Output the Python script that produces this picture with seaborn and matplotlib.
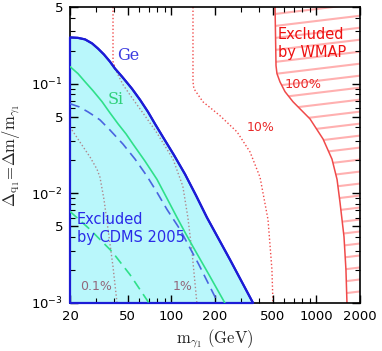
import numpy as np
import matplotlib
matplotlib.use("Agg")
import matplotlib.pyplot as plt
import seaborn as sns
from matplotlib.ticker import FixedLocator, FixedFormatter, NullFormatter

# ---------------- data ----------------
# CDMS 2005 exclusion, Ge (upper boundary of excluded region)
ge_m = [20, 22.7, 25.4, 28.4, 31.2, 34.3, 37.7, 40.9, 45.7, 53.5, 60.8, 69.0, 77.1,
        87.5, 104.3, 124.4, 147.8, 176, 254, 366]
ge_d = [0.264, 0.2615, 0.2533, 0.2328, 0.209, 0.1845, 0.159, 0.137, 0.1159, 0.090,
        0.0713, 0.0553, 0.0430, 0.0326, 0.0223, 0.0149, 0.00959, 0.00602, 0.00248, 0.001]
# Si solid
si_m = [20, 22.7, 25.4, 28.8, 33.3, 37.7, 42.9, 48.7, 54.4, 65.8, 79.6, 93.3, 109.4,
        124.4, 141, 181.8, 234]
si_d = [0.143, 0.1235, 0.104, 0.0863, 0.0684, 0.0542, 0.0430, 0.0348, 0.0281, 0.01966,
        0.0134, 0.00900, 0.00602, 0.00439, 0.00326, 0.00181, 0.001]
# Ge dashed
ged_m = [20, 23.1, 26.6, 29.3, 32.2, 37.7, 46.4, 56.2, 68.0, 79.6, 93.3, 114.8, 155, 210]
ged_d = [0.0656, 0.0615, 0.0553, 0.0509, 0.0467, 0.0378, 0.0281, 0.0205, 0.0143, 0.01021,
         0.00713, 0.00468, 0.00223, 0.001]
# Si dashed
sid_m = [20, 27.5, 39, 51.9, 70.1]
sid_d = [0.00684, 0.00468, 0.00294, 0.00181, 0.001]
# relic-density contours (dotted)
c01_m = [20, 23.4, 27.5, 30.7, 32.2, 34.3, 36.6, 39.6, 42.2]
c01_d = [0.0403, 0.0294, 0.0214, 0.0166, 0.0140, 0.00881, 0.00468, 0.00214, 0.001]
c1_m = [39.6, 39.6, 39.6, 41.5, 46.4, 53.5, 65.8, 79.6, 102.7, 120, 130, 139, 150]
c1_d = [0.5, 0.209, 0.159, 0.1316, 0.0979, 0.0744, 0.0509, 0.0355, 0.0205, 0.0116,
        0.00602, 0.00288, 0.001]
c10_m = [141, 141, 143, 165, 217, 284, 349, 409, 464, 494, 502]
c10_d = [0.5, 0.104, 0.090, 0.0684, 0.0509, 0.0363, 0.0238, 0.0140, 0.00577, 0.00201, 0.001]
# WMAP 100% boundary
w_m = [519, 527, 535, 561, 608, 690, 904, 1112, 1282, 1389, 1456, 1551, 1600, 1626]
w_d = [0.5, 0.146, 0.1235, 0.104, 0.0845, 0.0684, 0.0477, 0.0313, 0.0205, 0.0134,
       0.00827, 0.00403, 0.00201, 0.001]

x_ticks = [20, 50, 100, 200, 500, 1000, 2000]
x_ticklabels = ["20", "50", "100", "200", "500", "1000", "2000"]
y_ticks = [1e-3, 5e-3, 1e-2, 5e-2, 1e-1, 5e-1]
y_ticklabels = [r"$10^{-3}$", "5", r"$10^{-2}$", "5", r"$10^{-1}$", "5"]

# ---------------- style ----------------
sns.set_style("ticks")
plt.rcParams['font.family'] = ['DejaVu Sans']

BLUE = "#1c1cd6"
BLUE_D = "#4a64e0"
GREEN = "#2fe08a"
RED = "#f04a4a"
RED_T = "#e82a2a"
RED_IN = "#c01830"
PINK = "#ffb0b0"
CYAN = (71 / 255, 235 / 255, 247 / 255)

fig, ax = plt.subplots(figsize=(3.82, 3.51), dpi=100)
fig.subplots_adjust(left=70 / 382, right=360 / 382, bottom=1 - 303 / 351, top=1 - 7 / 351)
ax.set_xscale("log")
ax.set_yscale("log")
ax.set_xlim(20, 2000)
ax.set_ylim(1e-3, 0.5)
ax.set_axisbelow(False)

dot = (0, (1, 1.6))
# dotted contours (under the translucent cyan region)
for mm, dd in [(c01_m, c01_d), (c1_m, c1_d), (c10_m, c10_d)]:
    sns.lineplot(x=mm, y=dd, sort=False, estimator=None, ax=ax, color=RED,
                 lw=1.0, linestyle=dot, zorder=1)

ax.text(23.4, 0.0014, "0.1%", color=RED_IN, fontsize=9, ha="left", va="center", zorder=1)
ax.text(102.7, 0.0014, "1%", color=RED_IN, fontsize=9, ha="left", va="center", zorder=1)
ax.text(332, 0.0395, "10%", color=RED_T, fontsize=9, ha="left", va="center", zorder=1)
ax.text(608, 0.0979, "100%", color=RED_T, fontsize=9.3, ha="left", va="center", zorder=3)
ax.text(544, 0.233, "Excluded\nby WMAP", color="#ee1111", fontsize=10.5, ha="left",
        va="center", linespacing=1.3, zorder=3)

# WMAP excluded region: boundary + tilted hatch lines
sns.lineplot(x=w_m, y=w_d, sort=False, estimator=None, ax=ax, color=RED, lw=1.1, zorder=2)
wpoly = ax.fill_betweenx(w_d, w_m, 2000, facecolor="none", edgecolor="none", lw=0)
wpath = wpoly.get_paths()[0]
for y0 in np.arange(-0.16, 1.0, 0.0405):
    hl, = ax.plot([0, 1], [y0, y0 + 0.118], transform=ax.transAxes, color=PINK,
                  lw=1.5, zorder=1.5, solid_capstyle="butt")
    hl.set_clip_path(wpath, ax.transData)

# CDMS excluded region (translucent cyan)
ax.fill_between(ge_m, ge_d, 1e-3, facecolor=CYAN, alpha=0.38, lw=0, zorder=2)
ax.fill_between(ge_m, ge_d, 1e-3, facecolor="none", edgecolor=BLUE, lw=1.6,
                zorder=2.7, clip_on=False)

sns.lineplot(x=ge_m, y=ge_d, sort=False, estimator=None, ax=ax, color=BLUE, lw=1.5, zorder=3)
sns.lineplot(x=si_m, y=si_d, sort=False, estimator=None, ax=ax, color=GREEN, lw=1.2, zorder=3)
sns.lineplot(x=ged_m, y=ged_d, sort=False, estimator=None, ax=ax, color=BLUE_D, lw=1.2,
             linestyle=(0, (6, 3.5)), zorder=3)
sns.lineplot(x=sid_m, y=sid_d, sort=False, estimator=None, ax=ax, color=GREEN, lw=1.2,
             linestyle=(0, (6, 3.5)), zorder=3)

ax.text(42.2, 0.181, "Ge", color="#3a3ae0", fontsize=11.5, family="DejaVu Serif",
        ha="left", va="center", zorder=4)
ax.text(36.6, 0.0713, "Si", color="#2fd07a", fontsize=11.5, family="DejaVu Serif",
        ha="left", va="center", zorder=4)
ax.text(22.3, 0.00477, "Excluded\nby CDMS 2005", color="#2a2ae8", fontsize=10.5,
        ha="left", va="center", linespacing=1.3, zorder=4)

# ---------------- axes ----------------
ax.xaxis.set_major_locator(FixedLocator(x_ticks))
ax.xaxis.set_major_formatter(FixedFormatter(x_ticklabels))
ax.xaxis.set_minor_formatter(NullFormatter())
ax.yaxis.set_major_locator(FixedLocator(y_ticks))
ax.yaxis.set_major_formatter(FixedFormatter(y_ticklabels))
ax.yaxis.set_minor_formatter(NullFormatter())
ax.tick_params(which="both", direction="in", top=True, right=True, colors="black",
               labelsize=9.5)
ax.tick_params(which="major", length=6, width=1.0, pad=5)
ax.tick_params(which="minor", length=3.5, width=0.8)
for s in ax.spines.values():
    s.set_linewidth(1.2)
    s.set_color("black")

ax.set_xlabel(r"$\mathrm{m}_{\gamma_1}\ \mathrm{(GeV)}$", math_fontfamily="cm", fontsize=12)
ax.set_ylabel(r"$\Delta_{\mathrm{q}_1}\!=\!\Delta\mathrm{m}/\mathrm{m}_{\gamma_1}$",
              math_fontfamily="cm", fontsize=12)
ax.xaxis.set_label_coords(0.5, -0.08)
ax.yaxis.set_label_coords(-0.165, 0.5)

fig.savefig("out.png", dpi=100)
